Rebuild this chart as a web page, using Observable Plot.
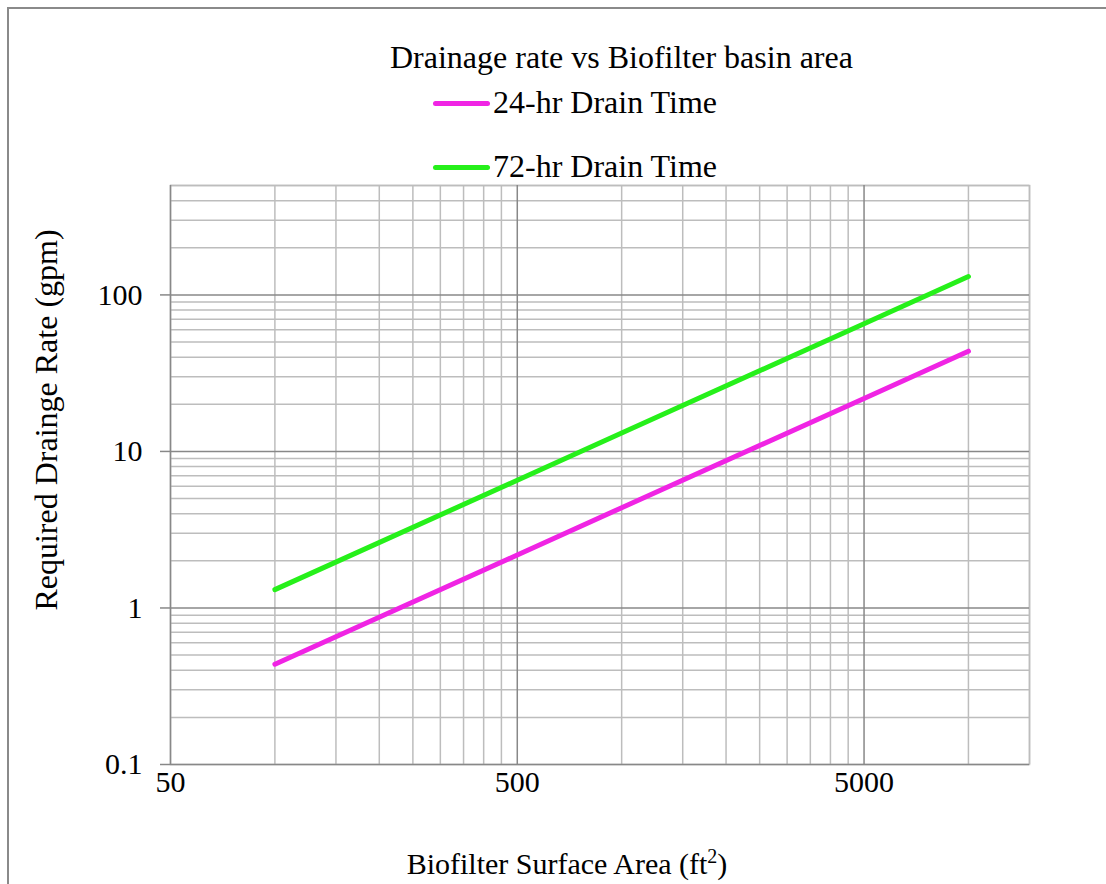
<!DOCTYPE html>
<html>
<head>
<meta charset="utf-8">
<script src="https://cdn.jsdelivr.net/npm/d3@7"></script>
<script src="https://cdn.jsdelivr.net/npm/@observablehq/plot@0.6"></script>
<style>
  html, body { margin: 0; padding: 0; background: #fff; }
  body { width: 1106px; height: 884px; position: relative; overflow: hidden; font-family: "Liberation Serif", "Times New Roman", serif; color: #000; }
  .border { position: absolute; left: 7px; top: 7px; width: 1200px; height: 1000px; border-left: 2px solid #8a8a8a; border-top: 2px solid #8a8a8a; box-sizing: border-box; }
  .txt { position: absolute; font-size: 32px; line-height: 32px; white-space: nowrap; }
  .swatch { position: absolute; height: 5px; border-radius: 3px; }
  #chart { position: absolute; left: 0; top: 175px; }
  #ylabel { position: absolute; left: 46px; top: 420px; width: 600px; text-align: center; transform: translate(-50%, -50%) rotate(-90deg); }
  #xlabel { left: 167px; width: 800px; text-align: center; top: 849px; font-size: 30px; line-height: 30px; }
</style>
</head>
<body>
<div class="border"></div>
<div class="txt" id="title" style="left:390px; top:41px;"></div>
<div id="legend"></div>
<div id="chart"></div>
<div class="txt" id="ylabel"></div>
<div class="txt" id="xlabel">Biofilter Surface Area (ft<sup style="font-size:20px; line-height:0; vertical-align: 11px;">2</sup>)</div>
<script>
// ---- Data ----
const titleText = "Drainage rate vs Biofilter basin area";
const yLabelText = "Required Drainge Rate (gpm)";
const seriesNames = ["24-hr Drain Time", "72-hr Drain Time"];
const seriesColors = ["#f024e4", "#26f01a"];
const areas = [100, 500, 1000, 5000, 10000];
const rate24 = [0.437, 2.18, 4.37, 21.8, 43.7];
const rate72 = [1.31, 6.55, 13.1, 65.5, 131];
const xMajorTicks = [50, 500, 5000];
const xMinorTicks = [100, 150, 200, 250, 300, 350, 400, 450, 1000, 1500, 2000, 2500, 3000, 3500, 4000, 4500, 10000, 15000];
const yMajorTicks = [0.1, 1, 10, 100];
const yMinorTicks = [0.2, 0.3, 0.4, 0.5, 0.6, 0.7, 0.8, 0.9, 2, 3, 4, 5, 6, 7, 8, 9, 20, 30, 40, 50, 60, 70, 80, 90, 200, 300, 400, 500];
const xDomain = [50, 15000];
const yDomain = [0.1, 500];

// ---- Table ----
const table = [];
areas.forEach((a, i) => {
  table.push({area: a, rate: rate24[i], series: seriesNames[0]});
  table.push({area: a, rate: rate72[i], series: seriesNames[1]});
});

// ---- Header / labels ----
document.getElementById("title").textContent = titleText;
document.getElementById("ylabel").textContent = yLabelText;
const legend = document.getElementById("legend");
const legendTops = [86, 150];
seriesNames.forEach((name, i) => {
  const sw = document.createElement("div");
  sw.className = "swatch";
  sw.style.left = "433px"; sw.style.width = "57px";
  sw.style.top = (legendTops[i] + 15) + "px";
  sw.style.background = seriesColors[i];
  legend.appendChild(sw);
  const t = document.createElement("div");
  t.className = "txt";
  t.style.left = "493px"; t.style.top = legendTops[i] + "px";
  t.textContent = name;
  legend.appendChild(t);
});

// ---- Plot ----
const chart = Plot.plot({
  width: 1106,
  height: 650,
  marginLeft: 170,
  marginRight: 77,
  marginTop: 10,
  marginBottom: 61,
  style: { fontFamily: "'Liberation Serif', 'Times New Roman', serif", fontSize: "30px", color: "#000", background: "transparent", overflow: "visible" },
  x: { type: "log", domain: xDomain, axis: null },
  y: { type: "log", domain: yDomain, axis: null },
  color: { domain: seriesNames, range: seriesColors },
  marks: [
    Plot.frame({ stroke: "#bdbdbd", strokeWidth: 1.5 }),
    Plot.ruleX(xMinorTicks, { stroke: "#bdbdbd", strokeWidth: 1.5 }),
    Plot.ruleY(yMinorTicks, { stroke: "#bdbdbd", strokeWidth: 1.5 }),
    Plot.ruleX(xMajorTicks, { stroke: "#888", strokeWidth: 1.5 }),
    Plot.ruleY(yMajorTicks, { stroke: "#888", strokeWidth: 1.5 }),
    Plot.text(xMajorTicks, { x: d => d, text: d => String(d), frameAnchor: "bottom", lineAnchor: "top", dy: 6, fontSize: 30, fill: "#000" }),
    Plot.axisY(yMajorTicks, { tickSize: 10, tickPadding: 18, label: null, tickFormat: d => String(d), stroke: "#888", strokeWidth: 1.5 }),
    Plot.line(table, { x: "area", y: "rate", z: "series", stroke: "series", strokeWidth: 5, strokeLinecap: "round" })
  ]
});
document.getElementById("chart").appendChild(chart);
</script>
</body>
</html>
